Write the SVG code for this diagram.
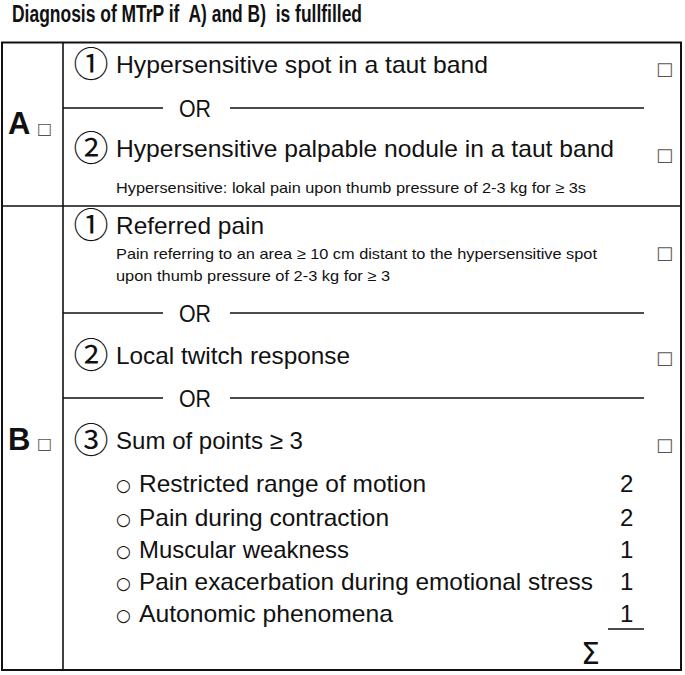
<svg xmlns="http://www.w3.org/2000/svg" width="685" height="675" viewBox="0 0 685 675">
<style>
.t{font-family:"Liberation Sans",Arial,sans-serif;fill:#111}
.m{font-size:24px}
.s{font-size:15px}
.c{font-family:"Noto Sans CJK JP","DejaVu Sans",sans-serif;font-size:35px;fill:#111;text-anchor:middle}
.b{font-family:"DejaVu Sans","Noto Sans CJK JP",sans-serif;fill:#555;font-size:18px}
.bs{font-family:"DejaVu Sans","Noto Sans CJK JP",sans-serif;fill:#555;font-size:16px}
.o{font-family:"DejaVu Sans",sans-serif;font-size:17px;fill:#111}
.ln{stroke:#111;stroke-width:1.6;fill:none}
</style>
<rect width="685" height="675" fill="#fff"/>
<g id="title"><text class="t" x="12" y="22" font-size="23" font-weight="bold" xml:space="preserve" style="white-space:pre" textLength="350" lengthAdjust="spacingAndGlyphs">Diagnosis of MTrP if  A) and B)  is fullfilled</text></g>
<g id="frame">
<rect x="2" y="42.5" width="679" height="627.5" fill="none" stroke="#111" stroke-width="2"/>
<line class="ln" x1="63" y1="42" x2="63" y2="670"/>
<line class="ln" x1="2" y1="206" x2="681" y2="206" stroke-width="2"/>
</g>
<g id="connectors">
<line class="ln" x1="63" y1="108" x2="163" y2="108"/><line class="ln" x1="230" y1="108" x2="644" y2="108"/>
<line class="ln" x1="63" y1="313" x2="163" y2="313"/><line class="ln" x1="230" y1="313" x2="644" y2="313"/>
<line class="ln" x1="63" y1="398" x2="163" y2="398"/><line class="ln" x1="230" y1="398" x2="644" y2="398"/>
<line class="ln" x1="608" y1="629" x2="644" y2="629"/>
</g>
<g id="label-A">
<text class="t" x="8" y="134" font-size="31" font-weight="bold">A</text>
<text class="bs" x="37" y="134">□</text>
</g>
<g id="A1">
<text class="c" x="91" y="77">①</text>
<text class="t m" x="116" y="73" textLength="372" lengthAdjust="spacingAndGlyphs">Hypersensitive spot in a taut band</text>
<text class="b" x="656" y="75">□</text>
</g>
<g id="or-A"><text class="t m" x="179" y="117" textLength="32" lengthAdjust="spacingAndGlyphs">OR</text></g>
<g id="A2">
<text class="c" x="91" y="161">②</text>
<text class="t m" x="116" y="157" textLength="498" lengthAdjust="spacingAndGlyphs">Hypersensitive palpable nodule in a taut band</text>
<text class="b" x="656" y="161">□</text>
<text class="t s" x="116" y="193" textLength="470" lengthAdjust="spacingAndGlyphs">Hypersensitive: lokal pain upon thumb pressure of 2-3 kg for ≥ 3s</text>
</g>
<g id="label-B">
<text class="t" x="8" y="450" font-size="31" font-weight="bold">B</text>
<text class="bs" x="37" y="449">□</text>
</g>
<g id="B1">
<text class="c" x="91" y="238">①</text>
<text class="t m" x="116" y="234" textLength="148" lengthAdjust="spacingAndGlyphs">Referred pain</text>
<text class="t s" x="116" y="259" textLength="481" lengthAdjust="spacingAndGlyphs">Pain referring to an area ≥ 10 cm distant to the hypersensitive spot</text>
<text class="t s" x="116" y="281" textLength="274" lengthAdjust="spacingAndGlyphs">upon thumb pressure of 2-3 kg for ≥ 3</text>
<text class="b" x="656" y="259">□</text>
</g>
<g id="or-B1"><text class="t m" x="179" y="322" textLength="32" lengthAdjust="spacingAndGlyphs">OR</text></g>
<g id="B2">
<text class="c" x="91" y="368">②</text>
<text class="t m" x="116" y="364" textLength="234" lengthAdjust="spacingAndGlyphs">Local twitch response</text>
<text class="b" x="656" y="364">□</text>
</g>
<g id="or-B2"><text class="t m" x="179" y="407" textLength="32" lengthAdjust="spacingAndGlyphs">OR</text></g>
<g id="B3">
<text class="c" x="91" y="453">③</text>
<text class="t m" x="116" y="449" textLength="187" lengthAdjust="spacingAndGlyphs">Sum of points ≥ 3</text>
<text class="b" x="656" y="451">□</text>
</g>
<g id="items">
<text class="o" x="116" y="491">○</text><text class="t m" x="139" y="492" textLength="287" lengthAdjust="spacingAndGlyphs">Restricted range of motion</text><text class="t m" x="620" y="492">2</text>
<text class="o" x="116" y="525">○</text><text class="t m" x="139" y="526" textLength="250" lengthAdjust="spacingAndGlyphs">Pain during contraction</text><text class="t m" x="620" y="526">2</text>
<text class="o" x="116" y="557">○</text><text class="t m" x="139" y="558" textLength="210" lengthAdjust="spacingAndGlyphs">Muscular weakness</text><text class="t m" x="620" y="558">1</text>
<text class="o" x="116" y="589">○</text><text class="t m" x="139" y="590" textLength="454" lengthAdjust="spacingAndGlyphs">Pain exacerbation during emotional stress</text><text class="t m" x="620" y="590">1</text>
<text class="o" x="116" y="621">○</text><text class="t m" x="139" y="622" textLength="254" lengthAdjust="spacingAndGlyphs">Autonomic phenomena</text><text class="t m" x="620" y="622">1</text>
<text x="581" y="664" font-family="DejaVu Sans, sans-serif" font-size="30" fill="#111">Σ</text>
</g>
</svg>
